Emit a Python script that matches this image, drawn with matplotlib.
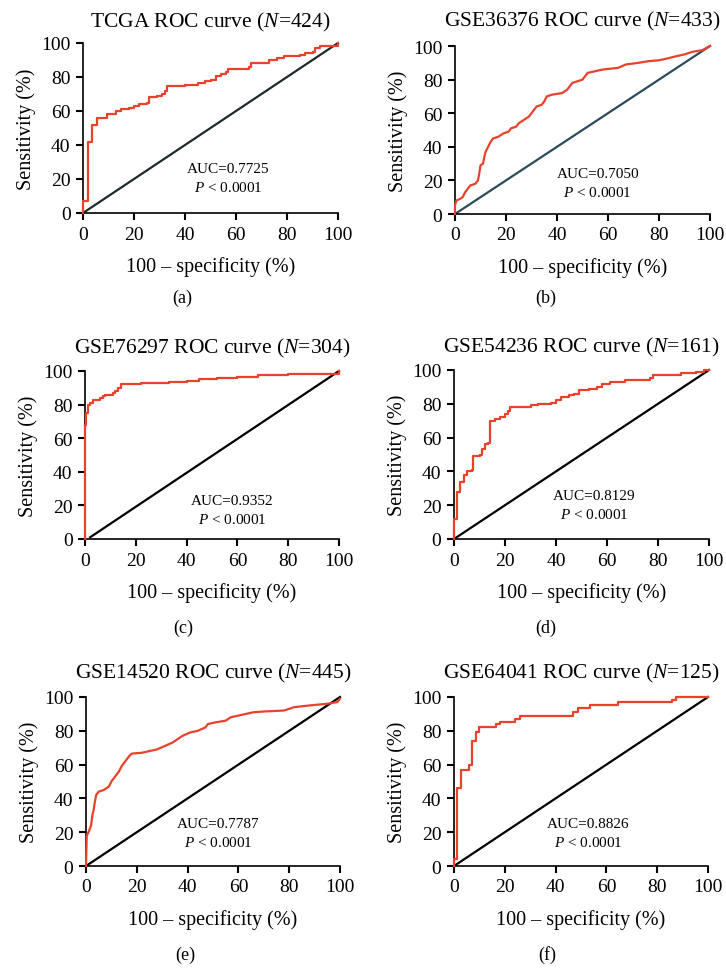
import matplotlib
matplotlib.use("Agg")
import matplotlib.pyplot as plt

plt.rcParams['font.family'] = ['Liberation Serif', 'DejaVu Serif']
plt.rcParams['mathtext.fontset'] = 'custom'
plt.rcParams['mathtext.rm'] = 'Liberation Serif'
plt.rcParams['mathtext.it'] = 'Liberation Serif:italic'

# ---------------- data ----------------
titles = ["TCGA", "GSE36376", "GSE76297", "GSE54236", "GSE14520", "GSE64041"]
sizes = [424, 433, 304, 161, 445, 125]
aucs = ["0.7725", "0.7050", "0.9352", "0.8129", "0.7787", "0.8826"]
panel_tags = ["(a)", "(b)", "(c)", "(d)", "(e)", "(f)"]

fpr_a = [0, 0, 2, 3.5, 5.5, 9.5, 13, 15, 18, 20, 22, 25, 26, 29, 31, 32, 33, 40, 45, 48, 50, 52,
         54, 56, 57, 62, 65, 66, 72, 73, 76, 79, 85, 87, 90, 91, 93, 97, 100]
tpr_a = [0, 7, 42, 52, 56, 58, 60, 61, 62, 63, 64, 65, 68, 69, 70, 72, 75, 75.5, 76.5, 77.5, 78.5,
         80.5, 82, 83, 84.5, 85, 86, 88, 88.5, 90, 91, 92.5, 93, 94, 94.5, 97, 98, 98.5, 100]

fpr_b = [0, 0, 0.5, 2, 3, 4, 5, 6, 8, 9, 9.5, 10, 11, 11.5, 12, 13, 14, 15, 17, 19, 21, 22, 24, 25,
         27, 29, 30, 31, 32, 34, 35, 36, 38, 42, 44, 45, 46, 48, 50, 52, 55, 58, 64, 67, 72, 76,
         80, 83, 87, 90, 93, 97, 100]
tpr_b = [0, 5, 8, 9, 10, 13, 15, 17, 18, 20, 24, 29, 30, 34, 37, 40, 43, 45, 46, 48, 49, 51, 52,
         54, 56, 58, 60, 62, 64, 65, 67, 70, 71, 72, 74, 76, 78, 79, 80, 84, 85, 86, 87, 89, 90,
         91, 91.5, 92.5, 94, 95, 96.5, 97.5, 100]

fpr_c = [0, 0, 0.5, 1, 2, 3, 6, 7, 8, 11, 12, 13, 14, 20, 22, 33, 40, 45, 52, 60, 68, 80, 97, 100]
tpr_c = [0, 68, 75, 80, 81, 83, 84, 85, 86, 87, 88, 90, 92, 92.5, 93, 93.5, 94, 95, 96, 96.5,
         97.5, 98, 98.5, 100]

fpr_d = [0, 0, 1.3, 2.5, 4, 5, 7, 7.5, 10, 11, 12, 13.5, 14, 16, 18, 20, 21, 22, 30, 33, 38, 40,
         42, 45, 47, 49, 53, 56, 58, 61, 67, 77, 78, 89, 95, 98, 100]
tpr_d = [0, 12, 28, 34, 38, 40, 41, 49, 50, 53, 56, 57, 70, 71, 72, 74, 76, 78, 79, 80, 80.5, 82,
         84, 85, 86, 88, 89, 90, 92, 93, 94, 95, 97, 98, 99, 100, 100]

fpr_e = [0, 0.3, 1, 1.5, 2, 2.5, 3, 3.5, 4, 5, 7, 9, 10, 11, 12, 13, 14, 15, 16, 17, 18, 22, 25,
         28, 31, 34, 36, 38, 41, 44, 47, 48, 51, 55, 57, 60, 63, 66, 71, 78, 80, 82, 88, 95, 99, 100]
tpr_e = [0, 18, 20, 22, 24, 30, 33, 38, 42, 44, 45, 47, 50, 52, 54, 56, 59, 61, 63, 65, 66.5, 67,
         68, 69, 71, 73, 75, 77, 79, 80, 82, 84, 85, 86, 88, 89, 90, 91, 91.5, 92, 93, 94, 95, 96,
         97, 99]

fpr_f = [0, 0, 1, 2.6, 5.8, 7.2, 8.7, 10, 16.5, 18, 24, 26, 47, 49, 53.5, 64.5, 86, 87.5, 100]
tpr_f = [0, 4, 46, 57, 60, 74, 79, 82, 84, 85.5, 87, 89, 91, 93.5, 95, 97, 98.5, 100, 100]

curves_fpr = [fpr_a, fpr_b, fpr_c, fpr_d, fpr_e, fpr_f]
curves_tpr = [tpr_a, tpr_b, tpr_c, tpr_d, tpr_e, tpr_f]
step_style = ['steps-post', 'default', 'steps-post', 'steps-post', 'default', 'steps-post']

diag_x = [[0, 100], [0, 100], [2, 100], [0, 100], [0, 100], [0, 100]]
diag_y = [[0, 100], [0, 100], [1, 100], [0, 100], [0, 100], [0, 100]]
diag_colors = ['#1c2b2b', '#2d4b5e', 'black', 'black', 'black', 'black']

auc_pos_x = [57, 56, 58, 55, 52, 53]
auc_pos_y = [26, 24, 23, 25.5, 25, 25]

ticks = [0, 20, 40, 60, 80, 100]

# ---------------- layout ----------------
W, H = 726, 970
fig = plt.figure(figsize=(W / 100, H / 100), dpi=100)

# axes boxes in pixels: (x0, x100, ytop, ybottom)
boxes = [(83, 338, 44, 214), (455, 710, 47, 215),
         (85, 339, 372, 540), (454, 709, 371, 540),
         (86, 340, 698, 867), (454, 708, 698, 867)]
title_pads = [12, 15, 13, 13, 14, 14]
tag_pos = [(182, 298), (546, 298), (183, 628), (546, 628), (185, 955), (547, 955)]

red = '#e8412c'

for i in range(6):
    x0, x1, yt, yb = boxes[i]
    ax = fig.add_axes([x0 / W, 1 - yb / H, (x1 - x0) / W, (yb - yt) / H])
    ax.plot(diag_x[i], diag_y[i], color=diag_colors[i], lw=1.6, clip_on=False, zorder=2)
    ax.plot(curves_fpr[i], curves_tpr[i], color=red, lw=1.6, drawstyle=step_style[i],
            clip_on=False, zorder=3)
    ax.set_xlim(0, 100)
    ax.set_ylim(0, 100)
    ax.set_xticks(ticks)
    ax.set_yticks(ticks)
    for s in ['top', 'right']:
        ax.spines[s].set_visible(False)
    for s in ['left', 'bottom']:
        ax.spines[s].set_linewidth(1.2)
    ax.tick_params(direction='out', length=5, width=1.5, labelsize=14, pad=4)
    ax.set_title(titles[i] + " ROC curve ($N$=" + str(sizes[i]) + ")", fontsize=15.5,
                 pad=title_pads[i])
    ax.set_xlabel("100 \u2013 specificity (%)", fontsize=14.5, labelpad=10)
    ax.set_ylabel("Sensitivity (%)", fontsize=14.5, labelpad=4)
    ax.text(auc_pos_x[i], auc_pos_y[i], "AUC=" + aucs[i], fontsize=11, ha='center', va='center')
    ax.text(auc_pos_x[i], auc_pos_y[i] - 11, "$P$ < 0.0001", fontsize=11, ha='center', va='center')
    tx, ty = tag_pos[i]
    fig.text(tx / W, 1 - ty / H, panel_tags[i], fontsize=13, ha='center', va='center')

fig.savefig("out.png", dpi=100)
